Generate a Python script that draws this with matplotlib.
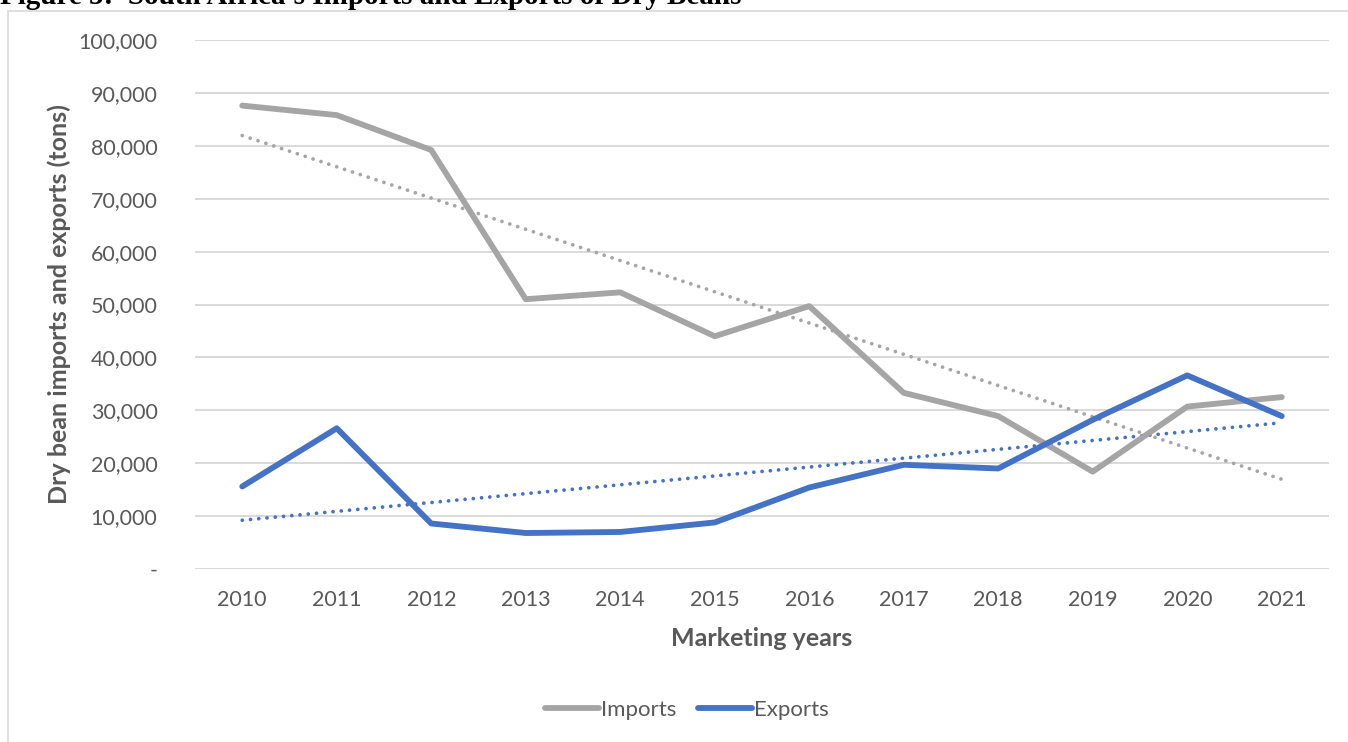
import numpy as np
import matplotlib.pyplot as plt
from matplotlib.patches import Rectangle
from matplotlib.ticker import FuncFormatter

years = ['2010', '2011', '2012', '2013', '2014', '2015',
         '2016', '2017', '2018', '2019', '2020', '2021']
imports = [87600, 85800, 79200, 51000, 52300, 44000,
           49700, 33300, 28900, 18400, 30700, 32500]
exports = [15600, 26600, 8600, 6800, 7000, 8800,
           15400, 19700, 19000, 28200, 36600, 28900]

grey = '#A5A5A5'
blue = '#4472C4'
txt = '#595959'
plt.rcParams['font.family'] = ['Lato', 'DejaVu Sans']

W, H = 1348, 742
fig = plt.figure(figsize=(W / 100, H / 100), dpi=100)
ax = fig.add_axes([195 / W, 1 - 569 / H, (1329 - 195) / W, (569 - 40) / H])

x = np.arange(len(years))

# linear trendlines (like Excel)
for vals, col in [(imports, grey), (exports, blue)]:
    k, b = np.polyfit(x, vals, 1)
    ax.plot(x, k * x + b, color=col, lw=2.7, linestyle=(0, (0.01, 2.2)),
            dash_capstyle='round', zorder=2)

ax.plot(x, imports, color=grey, lw=4.2, solid_capstyle='round',
        solid_joinstyle='round', label='Imports', zorder=3)
ax.plot(x, exports, color=blue, lw=4.2, solid_capstyle='round',
        solid_joinstyle='round', label='Exports', zorder=3)

ax.set_xlim(-0.5, len(years) - 0.5)
ax.set_ylim(0, 100000)
ax.set_yticks(np.arange(0, 100001, 10000))
ax.yaxis.set_major_formatter(FuncFormatter(lambda v, p: '-' if v == 0 else f'{int(v):,}'))
ax.set_xticks(x)
ax.set_xticklabels(years)
ax.grid(axis='y', color='#D9D9D9', lw=1.4)
ax.set_axisbelow(True)
for s in ax.spines.values():
    s.set_visible(False)
ax.tick_params(length=0, colors=txt, labelsize=15.5)
ax.tick_params(axis='y', pad=27)
ax.tick_params(axis='x', pad=15)

ax.set_xlabel('Marketing years', fontsize=18, fontweight='bold', color=txt, labelpad=12)
ax.set_ylabel('Dry bean imports and exports (tons)', fontsize=18, fontweight='bold',
              color=txt, labelpad=5)

leg = fig.legend(loc='center', bbox_to_anchor=(687 / W, 1 - 710 / H), ncol=2,
                 frameon=False, fontsize=16, handlelength=2.4, handletextpad=0.1,
                 columnspacing=1.0)
for t in leg.get_texts():
    t.set_color(txt)

# chart border (right and bottom sides fall outside the picture)
fig.patches.append(Rectangle((8 / W, -0.1), 1.2, 1 - 11 / H + 0.1,
                             transform=fig.transFigure, fill=False,
                             edgecolor='#D9D9D9', lw=1.2))

fig.text(0, 1 - 4 / H, "Figure 5:  South Africa's Imports and Exports of Dry Beans",
         fontsize=21, fontweight='bold', family='Liberation Serif',
         ha='left', va='baseline')

fig.savefig('out.png', dpi=100)
